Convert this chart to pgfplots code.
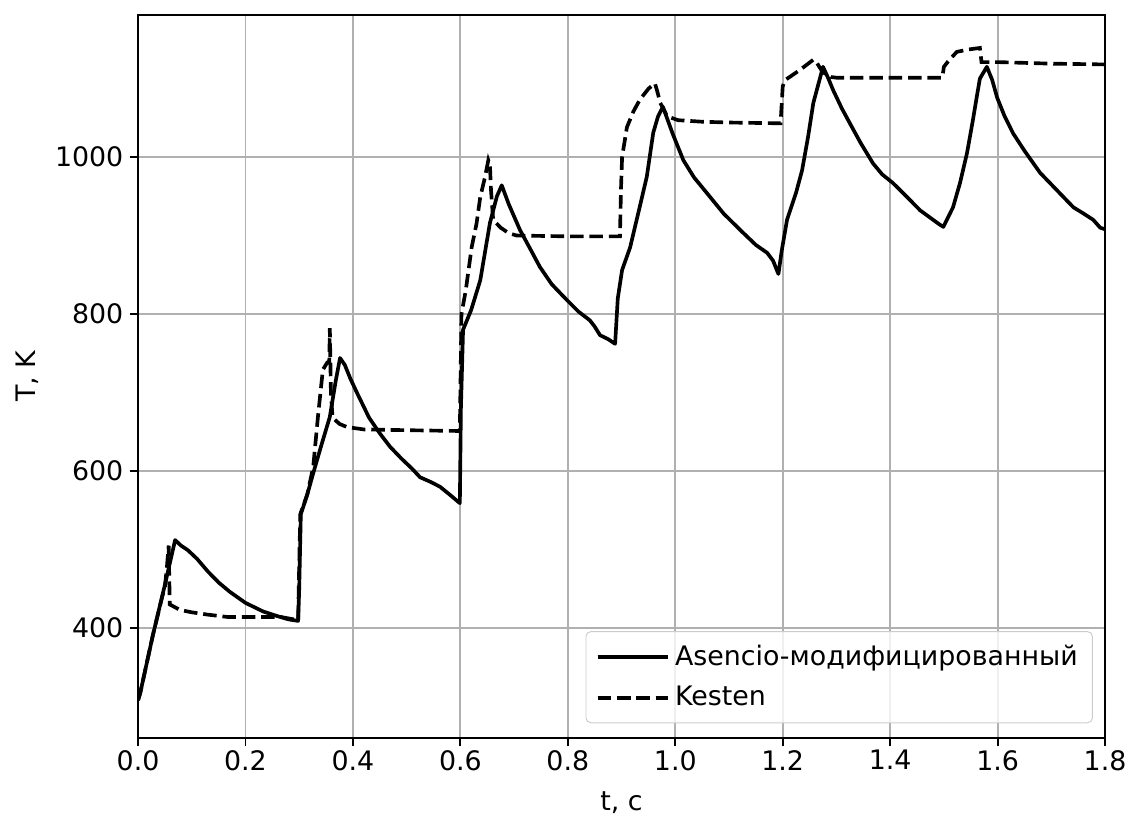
\documentclass[border=0pt]{standalone}
\usepackage{fontspec}
\setmainfont{DejaVu Sans}
\usepackage{pgfplots}
\pgfplotsset{compat=1.18}
\definecolor{gridgray}{HTML}{B0B0B0}
\begin{document}
\begin{tikzpicture}
\begin{axis}[
  scale only axis,
  width=396.5pt, height=296.4pt,
  xmin=0, xmax=1.8, ymin=260, ymax=1181,
  xtick={0,0.2,0.4,0.6,0.8,1.0,1.2,1.4,1.6,1.8},
  ytick={400,600,800,1000},
  xticklabel style={/pgf/number format/.cd, fixed, fixed zerofill, precision=1},
  /pgf/number format/1000 sep={},
  /pgf/number format/assume math mode=true,
  tick align=outside, major tick length=3.5pt,
  xtick pos=left, ytick pos=left,
  tick style={black, line width=0.8pt},
  axis line style={black, line width=0.8pt},
  grid=major,
  grid style={gridgray, line width=0.8pt},
  font=\fontsize{11}{13}\selectfont,
  xlabel={t, c}, ylabel={T, K},
  xticklabel shift=-2pt, yticklabel shift=-1pt,
  xlabel style={yshift=-2pt},
  legend cell align=left,
  legend style={at={(1,0)}, anchor=south east, xshift=-5pt, yshift=6pt,
    draw=black!20, rounded corners=2pt, fill=white, fill opacity=0.8, text opacity=1,
    inner xsep=4pt, inner ysep=3.5pt, row sep=3pt, font=\fontsize{11}{13}\selectfont},
  legend image code/.code={\draw[#1] (0pt,0pt) -- (24pt,0pt); \path (0pt,0pt) -- (29pt,0pt);},
]
\addplot[black, line width=1.5pt, line join=round] coordinates {
(0.000,308) (0.004,317) (0.028,392) (0.050,455) (0.069,512) (0.080,505)
(0.093,499) (0.110,488) (0.130,472) (0.150,458) (0.171,446) (0.200,432)
(0.233,421) (0.260,415) (0.280,411) (0.298,409) (0.300,450) (0.303,545)
(0.315,570) (0.326,597) (0.340,630) (0.357,669) (0.368,715) (0.376,744)
(0.385,735) (0.395,718) (0.408,699) (0.430,668) (0.450,648) (0.469,631)
(0.490,616) (0.510,603) (0.525,592) (0.545,586) (0.562,580) (0.580,570)
(0.599,559) (0.601,680) (0.605,780) (0.620,805) (0.637,843) (0.655,916)
(0.668,950) (0.677,964) (0.690,940) (0.711,907) (0.730,883) (0.748,860)
(0.770,838) (0.798,818) (0.820,803) (0.841,792) (0.850,784) (0.860,773)
(0.875,768) (0.888,762) (0.893,820) (0.901,856) (0.916,885) (0.934,937)
(0.947,975) (0.959,1031) (0.968,1052) (0.977,1064) (0.995,1030) (1.015,996)
(1.035,974) (1.059,954) (1.090,928) (1.121,907) (1.150,888) (1.171,878)
(1.182,868) (1.192,851) (1.198,880) (1.208,920) (1.225,955) (1.236,983)
(1.247,1025) (1.257,1069) (1.275,1115) (1.285,1100) (1.294,1085) (1.310,1062)
(1.325,1043) (1.345,1018) (1.368,992) (1.385,978) (1.405,967) (1.430,950)
(1.456,932) (1.480,920) (1.490,915) (1.499,911) (1.517,936) (1.530,967)
(1.543,1005) (1.554,1047) (1.561,1076) (1.567,1100) (1.580,1115) (1.590,1098)
(1.599,1076) (1.613,1052) (1.629,1030) (1.650,1008) (1.679,980) (1.710,958)
(1.741,936) (1.760,928) (1.778,920) (1.791,910) (1.800,908)
};
\addlegendentry{Asencio-модифицированный}
\addplot[black, line width=1.5pt, dash pattern=on 5.55pt off 2.4pt] coordinates {
(0.000,308) (0.004,317) (0.028,392) (0.045,440) (0.050,452) (0.054,480)
(0.057,505) (0.058,470) (0.059,430) (0.070,426) (0.078,423) (0.100,420)
(0.130,417) (0.167,414) (0.200,414) (0.266,414) (0.290,411) (0.298,410)
(0.300,480) (0.302,545) (0.315,570) (0.326,605) (0.335,670) (0.344,729)
(0.352,738) (0.356,740) (0.357,782) (0.359,700) (0.362,668) (0.375,660)
(0.389,656) (0.420,653) (0.500,652) (0.599,651) (0.600,700) (0.602,800)
(0.610,830) (0.621,885) (0.630,915) (0.637,949) (0.646,975) (0.652,996)
(0.655,990) (0.657,958) (0.661,920) (0.675,910) (0.690,903) (0.705,900)
(0.800,899) (0.897,899) (0.899,960) (0.901,1000) (0.910,1038) (0.922,1058)
(0.934,1073) (0.950,1087) (0.962,1094) (0.966,1085) (0.972,1069) (0.985,1052)
(1.005,1047) (1.050,1045) (1.100,1044) (1.196,1043) (1.200,1090) (1.204,1098)
(1.215,1103) (1.232,1111) (1.257,1124) (1.262,1122) (1.268,1115) (1.275,1108)
(1.290,1102) (1.301,1101) (1.400,1101) (1.497,1101) (1.500,1115) (1.508,1122)
(1.524,1134) (1.545,1137) (1.567,1139) (1.570,1121) (1.600,1121) (1.700,1119)
(1.800,1118)
};
\addlegendentry{Kesten}
\end{axis}
\pgfresetboundingbox
\path ([shift={(-56.6pt,-32pt)}]current axis.south west) rectangle ([shift={(9pt,6.15pt)}]current axis.north east);
\end{tikzpicture}
\end{document}
